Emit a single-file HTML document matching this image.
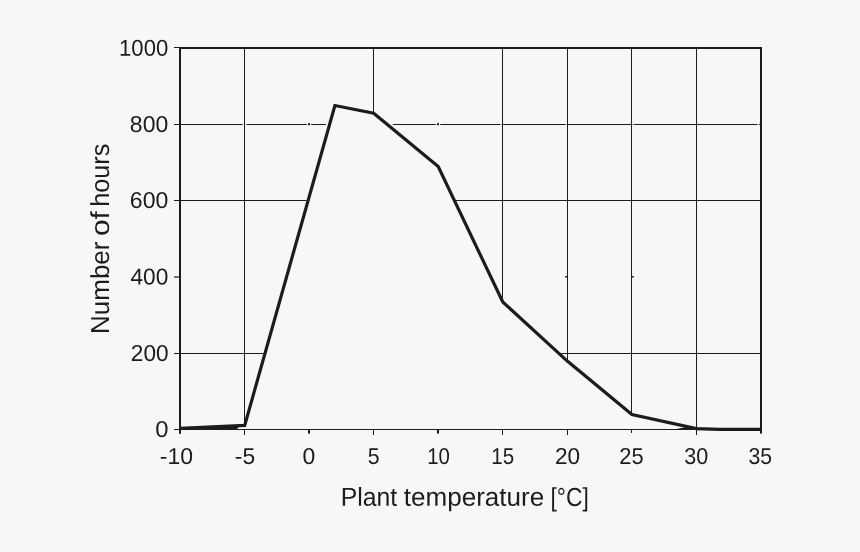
<!DOCTYPE html>
<html><head><meta charset="utf-8">
<style>
html,body{margin:0;padding:0;background:#f7f7f7;}
body{width:860px;height:552px;overflow:hidden;position:relative;font-family:"Liberation Sans",sans-serif;}
svg{position:absolute;left:0;top:0;display:block;will-change:transform;}
text{font-family:"Liberation Sans",sans-serif;fill:#1c1c1c;}
</style></head><body>
<svg width="860" height="552" viewBox="0 0 860 552">
<rect x="0" y="0" width="860" height="552" fill="#f7f7f7"/>
<!-- gridlines -->
<g stroke="#1c1c1c" stroke-width="1" shape-rendering="crispEdges">
<line x1="180" y1="124.5" x2="761" y2="124.5"/>
<line x1="180" y1="200.5" x2="761" y2="200.5"/>
<line x1="180" y1="353.5" x2="761" y2="353.5"/>
</g>
<g fill="#f7f7f7">
<rect x="325.8" y="123" width="2.5" height="3"/>
<rect x="389" y="123" width="4" height="3"/>
<rect x="242.8" y="123" width="1.2" height="3"/>
<rect x="245.2" y="123" width="1.3" height="3"/>
<rect x="306.8" y="123" width="1.2" height="3"/>
<rect x="310" y="123" width="1.1" height="3"/>
<rect x="435.8" y="123" width="1.2" height="3"/>
<rect x="439" y="123" width="1.2" height="3"/>
<rect x="500.3" y="123" width="1.2" height="3"/>
<rect x="565.6" y="123" width="1" height="3"/>
<rect x="632.5" y="123" width="1.2" height="3"/>
<rect x="757.5" y="123" width="1.5" height="3"/>
</g>
<polygon fill="#f7f7f7" stroke="#f7f7f7" stroke-width="3" stroke-linejoin="round" points="180.0,428.4 244.7,425.4 334.9,105.5 373.7,113.2 438.2,166.6 502.8,302.0 567.3,361.1 631.9,414.5 696.4,428.6 719.0,429.3 761.0,429.4 761,429.5 180,429.5"/>
<g stroke="#1c1c1c" stroke-width="1" shape-rendering="crispEdges">
<line x1="244.5" y1="48" x2="244.5" y2="425"/>
<line x1="373.5" y1="48" x2="373.5" y2="112"/>
<line x1="502.5" y1="48" x2="502.5" y2="301"/>
<line x1="567.5" y1="48" x2="567.5" y2="360"/>
<line x1="631.5" y1="48" x2="631.5" y2="413"/>
<line x1="696.5" y1="48" x2="696.5" y2="428"/>
</g>
<g fill="#1c1c1c"><rect x="565.3" y="276" width="1.7" height="1.6"/><rect x="632" y="276" width="1.7" height="1.6"/><rect x="308" y="123.2" width="2" height="2"/><rect x="437" y="123.2" width="2" height="2"/></g>
<g stroke="#1c1c1c" shape-rendering="crispEdges">
<line x1="174" y1="47.5" x2="179" y2="47.5" stroke-width="1"/>
<line x1="179" y1="48" x2="762" y2="48" stroke-width="2"/>
<line x1="180" y1="47" x2="180" y2="430" stroke-width="2"/>
<line x1="761" y1="47" x2="761" y2="430" stroke-width="2"/>
<line x1="174" y1="429.5" x2="762" y2="429.5" stroke-width="1"/>
<line x1="174" y1="124.5" x2="180" y2="124.5"/>
<line x1="174" y1="200.5" x2="180" y2="200.5"/>
<line x1="174" y1="353.5" x2="180" y2="353.5"/>
<line x1="244.5" y1="429" x2="244.5" y2="435"/>
<line x1="373.5" y1="429" x2="373.5" y2="435"/>
<line x1="502.5" y1="429" x2="502.5" y2="435"/>
<line x1="567.5" y1="429" x2="567.5" y2="435"/>
<line x1="631.5" y1="429" x2="631.5" y2="433"/>
<line x1="696.5" y1="429" x2="696.5" y2="435"/>
</g>
<g fill="#1c1c1c"><rect x="308" y="429" width="2" height="4.6"/><rect x="437" y="429" width="2" height="4.6"/><rect x="760" y="429" width="2" height="4.6"/><rect x="179" y="429" width="2" height="4.8"/></g>
<line x1="174" y1="277" x2="180" y2="277" stroke="#1c1c1c" stroke-width="1.2"/>
<polygon fill="#1c1c1c" points="180,428.4 240,425.8 236.5,429.5 180,429.5"/>
<polygon fill="#1c1c1c" points="674,429.5 688,426.8 697,428.6 697,430 674,430"/>
<polyline fill="none" stroke="#1c1c1c" stroke-width="3.2" stroke-linejoin="miter" points="180.0,428.4 244.7,425.4 334.9,105.5 373.7,113.2 438.2,166.6 502.8,302.0 567.3,361.1 631.9,414.5 696.4,428.6 719.0,429.3 761.0,429.4"/>
<text transform="translate(119.04,55.7) rotate(0.03) scale(0.9623,1)" font-size="23">1000</text>
<text transform="translate(129.87,131.9) rotate(0.03) scale(0.9985,1)" font-size="23">800</text>
<text transform="translate(129.85,208.1) rotate(0.03) scale(1.0017,1)" font-size="23">600</text>
<text transform="translate(130.43,284.6) rotate(0.03) scale(0.9860,1)" font-size="23">400</text>
<text transform="translate(130.87,361.0) rotate(0.03) scale(0.9851,1)" font-size="23">200</text>
<text transform="translate(155.15,437.0) rotate(0.03) scale(1.0343,1)" font-size="23">0</text>
<text transform="translate(159.76,464.1) rotate(0.03) scale(1.0006,1)" font-size="23">-10</text>
<text transform="translate(234.77,464.1) rotate(0.03) scale(0.9946,1)" font-size="23">-5</text>
<text transform="translate(302.48,464.1) rotate(0.03) scale(0.9977,1)" font-size="23">0</text>
<text transform="translate(367.85,464.1) rotate(0.03) scale(0.9245,1)" font-size="23">5</text>
<text transform="translate(427.17,464.1) rotate(0.03) scale(0.8870,1)" font-size="23">10</text>
<text transform="translate(491.36,464.1) rotate(0.03) scale(0.8914,1)" font-size="23">15</text>
<text transform="translate(555.07,464.1) rotate(0.03) scale(0.9799,1)" font-size="23">20</text>
<text transform="translate(619.31,464.1) rotate(0.03) scale(0.9506,1)" font-size="23">25</text>
<text transform="translate(684.24,464.1) rotate(0.03) scale(0.9368,1)" font-size="23">30</text>
<text transform="translate(748.45,464.1) rotate(0.03) scale(0.9202,1)" font-size="23">35</text>
<text transform="translate(340.67,505.7) rotate(0.03) scale(0.9528,1)" font-size="26">Plant</text>
<text transform="translate(403.81,505.7) rotate(0.03) scale(1.0023,1)" font-size="26">temperature</text>
<text transform="translate(550.50,505.7) rotate(0.03) scale(0.8770,1)" font-size="26">[°C]</text>
<text transform="translate(109.1,333.88) rotate(-90.03) scale(0.9982,1)" font-size="26">Number</text>
<text transform="translate(109.1,236.10) rotate(-90.03) scale(1.1514,1)" font-size="26">of</text>
<text transform="translate(109.1,206.77) rotate(-90.03) scale(0.9716,1)" font-size="26">hours</text>
</svg>
</body></html>
